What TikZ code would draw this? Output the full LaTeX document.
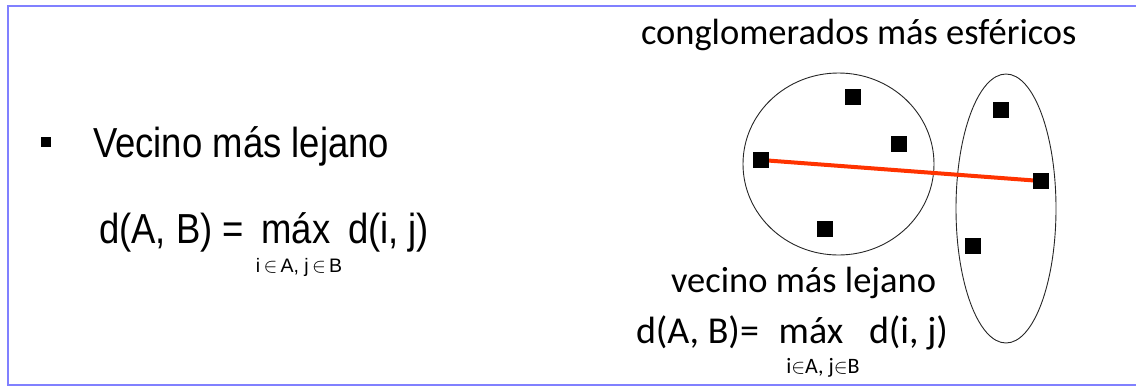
\documentclass[tikz,border=0pt]{standalone}
\usepackage{fontspec}
\setmainfont{Liberation Sans}
\newfontfamily\calfont{Carlito}
\definecolor{framecol}{RGB}{128,128,255}
\definecolor{linkred}{RGB}{255,51,0}
\newcommand{\tallText}[1]{\scalebox{1}[1.15]{#1}}
\begin{document}
\begin{tikzpicture}[x=1pt,y=-1pt,
  txt/.style={inner sep=0pt,outer sep=0pt},
  arialbig/.style={txt,font=\fontsize{36.5}{40}\selectfont},
  arialsub/.style={txt,font=\fontsize{19.5}{21}\selectfont},
  calbig/.style={txt,font=\calfont\fontsize{36.5}{40}\selectfont},
  calform/.style={txt,font=\calfont\fontsize{38}{42}\selectfont},
  calsub/.style={txt,font=\calfont\fontsize{22}{24}\selectfont},
  pt/.style={fill=black,draw=none,minimum size=16pt,inner sep=0pt},
  bulletbox/.style={fill=black,draw=none,minimum size=10pt,inner sep=0pt},
  cluster/.style={draw=black!85,line width=0.9pt},
  link/.style={draw=linkred,line width=4pt}]
\useasboundingbox (0,0) rectangle (1136,389);
% frame
\draw[framecol,line width=1.5pt] (1136,6) -- (8,6) -- (8,385) -- (1136,385);
% left part
\node[bulletbox] (bul) at (46,142) {};
\node[arialbig,anchor=base west] (t1) at (93,157) {\tallText{Vecino más lejano}};
\node[arialbig,anchor=base west] (lhsL) at (99,243) {\tallText{d(A, B) =}};
\node[arialbig,anchor=base] (maxL) at (296,243) {\tallText{máx}};
\node[arialbig,anchor=base west] (rhsL) at (348,243) {\tallText{d(i, j)}};
\node[arialsub,anchor=base] (subL) at (299,272) {i\,$\in$\,A, j\,$\in$\,B};
% right part
\node[calbig,anchor=base west] (title) at (641,44) {conglomerados más esféricos};
\node[calbig,anchor=base west] (t2) at (671,292) {vecino más lejano};
\node[calform,anchor=base west] (lhsR) at (636,343) {d(A, B)=};
\node[calform,anchor=base] (maxR) at (811,343) {máx};
\node[calform,anchor=base west] (rhsR) at (869,343) {d(i, j)};
\node[calsub,anchor=base] (subR) at (823,373) {i$\in$A, j$\in$B};
% clusters
\draw[cluster] (838.5,164) ellipse [x radius=95.5pt, y radius=91pt];
\draw[cluster] (1006,208.5) ellipse [x radius=50pt, y radius=134.5pt];
\coordinate (c1) at (853,97);
\coordinate (c2) at (899,144);
\coordinate (c3) at (761,160);
\coordinate (c4) at (825,229);
\coordinate (c5) at (1001,110);
\coordinate (c6) at (1041,181);
\coordinate (c7) at (973,246);
\draw[link] (c3) -- (c6);
\node[pt] (p1) at (c1) {};
\node[pt] (p2) at (c2) {};
\node[pt] (p3) at (c3) {};
\node[pt] (p4) at (c4) {};
\node[pt] (p5) at (c5) {};
\node[pt] (p6) at (c6) {};
\node[pt] (p7) at (c7) {};
\end{tikzpicture}
\end{document}
